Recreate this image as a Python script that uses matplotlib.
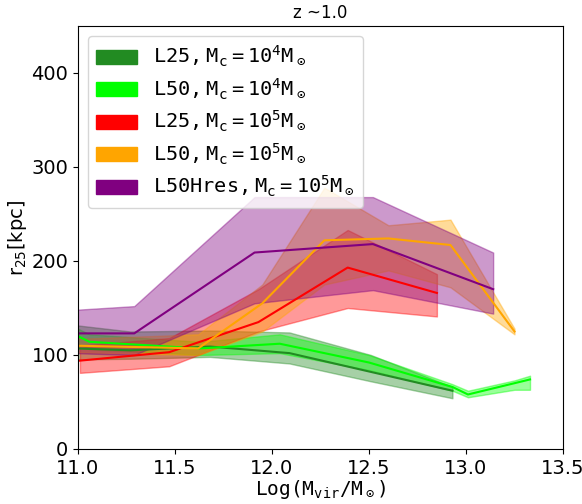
import matplotlib
matplotlib.use("Agg")
import matplotlib.pyplot as plt
from matplotlib.patches import Patch

# L25, Mc=1e4 (dark green)
x_dg = [10.85, 11.27, 11.68, 12.09, 12.51, 12.93]
y_dg = [108, 105, 109, 102, 82, 62]
hi_dg = [135, 125, 126, 124, 100, 66]
lo_dg = [95, 96, 98, 91, 72, 54]

# L50, Mc=1e4 (lime)
x_lg = [10.95, 11.06, 11.63, 12.04, 12.50, 12.93, 13.01, 13.25, 13.33]
y_lg = [125, 114, 107, 112, 92, 66, 58, 70, 74]
hi_lg = [133, 122, 114, 122, 100, 69, 62, 73, 78]
lo_lg = [117, 106, 100, 102, 84, 62, 55, 63, 63]

# L25, Mc=1e5 (red)
x_r = [11.01, 11.47, 11.93, 12.39, 12.85]
y_r = [94, 103, 135, 193, 166]
hi_r = [110, 118, 170, 233, 186]
lo_r = [81, 88, 125, 150, 141]

# L50, Mc=1e5 (orange)
x_o = [10.97, 11.62, 11.95, 12.27, 12.60, 12.92, 13.25]
y_o = [110, 107, 155, 222, 224, 217, 125]
hi_o = [117, 122, 175, 278, 238, 244, 128]
lo_o = [103, 100, 125, 175, 190, 172, 122]

# L50Hres, Mc=1e5 (purple)
x_p = [10.98, 11.29, 11.91, 12.52, 13.14]
y_p = [123, 123, 209, 218, 170]
hi_p = [148, 152, 268, 268, 209]
lo_p = [102, 100, 155, 169, 144]

labels = [r'$\mathtt{L25,M_c=10^4M_\odot}$',
          r'$\mathtt{L50,M_c=10^4M_\odot}$',
          r'$\mathtt{L25,M_c=10^5M_\odot}$',
          r'$\mathtt{L50,M_c=10^5M_\odot}$',
          r'$\mathtt{L50Hres,M_c=10^5M_\odot}$']
colors = ['#228B22', '#00FF00', '#FF0000', '#FFA500', '#800080']

series = [(x_dg, y_dg, hi_dg, lo_dg), (x_lg, y_lg, hi_lg, lo_lg),
          (x_r, y_r, hi_r, lo_r), (x_o, y_o, hi_o, lo_o), (x_p, y_p, hi_p, lo_p)]

fig = plt.figure(figsize=(5.82, 5.04), dpi=100)
ax = fig.add_axes([78/582, 1-449/504, (563-78)/582, (449-26)/504])

for (x, y, hi, lo), c in zip(series, colors):
    ax.fill_between(x, lo, hi, color=c, alpha=0.4, lw=1)
for (x, y, hi, lo), c in zip(series, colors):
    ax.plot(x, y, color=c, lw=1.5)

ax.set_xlim(11.0, 13.5)
ax.set_ylim(0, 450)
ax.set_xticks([11.0, 11.5, 12.0, 12.5, 13.0, 13.5])
ax.set_yticks([0, 100, 200, 300, 400])
ax.tick_params(labelsize=14)
ax.set_xlabel(r'$\mathtt{Log(M_{vir}/M_\odot)}$', fontsize=14, labelpad=0)
ax.set_ylabel(r'$\mathrm{r_{25}[kpc]}$', fontsize=14, labelpad=2)
ax.set_title('z ~1.0', fontsize=12)

handles = [Patch(color=c, label=l) for c, l in zip(colors, labels)]
ax.legend(handles=handles, loc='upper left', fontsize=14.6, borderaxespad=0.5,
          labelspacing=0.36)

fig.savefig('out.png', dpi=100)
